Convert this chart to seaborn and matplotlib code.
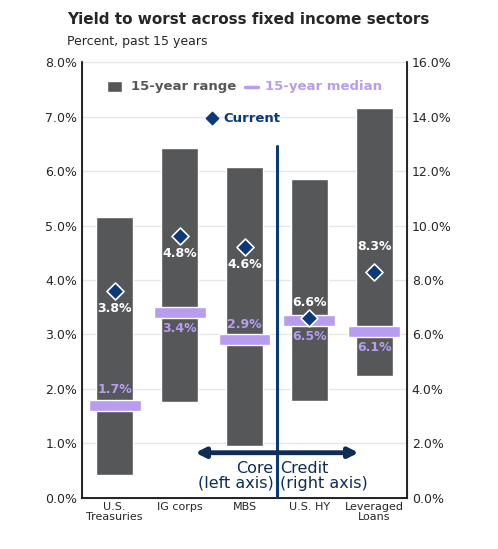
import matplotlib
matplotlib.use("Agg")
import matplotlib.pyplot as plt
import seaborn as sns
import pandas as pd

sectors = ["U.S.\nTreasuries", "IG corps", "MBS", "U.S. HY", "Leveraged\nLoans"]
range_low = [0.43, 1.76, 0.95, 3.55, 4.46]
range_high = [5.15, 6.43, 6.07, 11.72, 14.33]
median = [1.7, 3.4, 2.9, 6.5, 6.1]
current = [3.8, 4.8, 4.6, 6.6, 8.3]
right_axis = [False, False, False, True, True]

dark = "#555759"
lilac = "#b89cf0"
navy = "#0b3a7a"

# put everything in left-axis units (right axis is 2x)
scale = [0.5 if r else 1.0 for r in right_axis]
df = pd.DataFrame({
    "sector": sectors,
    "lo": [v * s for v, s in zip(range_low, scale)],
    "hi": [v * s for v, s in zip(range_high, scale)],
    "med": [v * s for v, s in zip(median, scale)],
    "cur": [v * s for v, s in zip(current, scale)],
    "x": range(len(sectors)),
})

sns.set_style("white")
fig = plt.figure(figsize=(4.98, 5.49), dpi=100)
ax = fig.add_axes([0.165, 0.093, 0.652, 0.794])

ax.bar(df["x"], df["hi"] - df["lo"], bottom=df["lo"], width=0.56, color=dark, zorder=2)
ax.bar(df["x"], 0.2, bottom=df["med"] - 0.1, width=0.8, color=lilac, zorder=3)
sns.scatterplot(data=df, x="x", y="cur", marker="D", s=75, color=navy,
                edgecolor="white", linewidth=1.2, zorder=4, ax=ax)

for i, row in df.iterrows():
    # current labels
    if i == 3:
        cy, cva = row.cur + 0.17, "bottom"
    elif i == 4:
        cy, cva = row.cur + 0.35, "bottom"
    else:
        cy, cva = row.cur - 0.2, "top"
    ax.text(row.x, cy, f"{current[i]:.1f}%", ha="center", va=cva, color="white",
            fontsize=9, fontweight="bold", zorder=5)
    if i in (0, 2):
        my, mva = row.med + 0.17, "bottom"
    else:
        my, mva = row.med - 0.17, "top"
    ax.text(row.x, my, f"{median[i]:.1f}%", ha="center", va=mva, color=lilac,
            fontsize=9, fontweight="bold", zorder=5)

ax.set_xlim(-0.5, 4.5)
ax.set_ylim(0, 8)
ax.set_yticks(range(9))
ax.set_yticklabels([f"{v:.1f}%" for v in range(9)], fontsize=9)
ax.set_xticks(range(5))
ax.set_xticklabels(sectors, fontsize=8, linespacing=0.95)
ax.set_xticks([-0.5, 0.5, 1.5, 2.5, 3.5, 4.5], minor=True)
ax.tick_params(axis="x", which="major", length=0, pad=3)
ax.tick_params(axis="x", which="minor", length=4, direction="out", color="black")
ax.set_xlabel("")
ax.set_ylabel("")
ax.yaxis.grid(True, color="#e6e6e6", linewidth=1, zorder=0)
for s in ["left", "right", "bottom"]:
    ax.spines[s].set_color("black")
    ax.spines[s].set_linewidth(1.2)
ax.spines["top"].set_visible(False)

ax2 = ax.twinx()
ax2.set_ylim(0, 16)
ax2.set_yticks(range(0, 17, 2))
ax2.set_yticklabels([f"{v:.1f}%" for v in range(0, 17, 2)], fontsize=9)
ax2.spines["top"].set_visible(False)
ax2.tick_params(axis="y", length=0)
ax.tick_params(axis="y", length=0)

# divider and arrow
ax.plot([2.5, 2.5], [0, 6.45], color=navy, linewidth=2.2, zorder=6)
ax.annotate("", xy=(1.2, 0.83), xytext=(3.8, 0.83),
            arrowprops=dict(arrowstyle="<|-|>", color="#0e2c57", lw=3.5,
                            mutation_scale=14), zorder=6)
ax.text(2.45, 0.68, "Core\n(left axis)", ha="right", va="top", color="#0e2c57",
        fontsize=11.5, linespacing=1.0)
ax.text(2.55, 0.68, "Credit\n(right axis)", ha="left", va="top", color="#0e2c57",
        fontsize=11.5, linespacing=1.0)

# legend drawn as text
ax.bar([0.0], 0.2, bottom=7.45, width=0.22, color=dark, zorder=3)
ax.text(0.25, 7.55, "15-year range", va="center", fontsize=9.5, fontweight="bold", color=dark)
ax.plot([2.0, 2.2], [7.55, 7.55], color=lilac, lw=2.5)
ax.text(2.32, 7.55, "15-year median", va="center", fontsize=9.5, fontweight="bold", color=lilac)
ax.scatter([1.5], [6.97], marker="D", s=40, color=navy, zorder=5)
ax.text(1.68, 6.97, "Current", va="center", fontsize=9.5, fontweight="bold", color=navy)

fig.text(0.135, 0.965, "Yield to worst across fixed income sectors", fontsize=11,
         fontweight="bold", va="center")
fig.text(0.135, 0.925, "Percent, past 15 years", fontsize=9, va="center")

fig.savefig("out.png", dpi=100)
